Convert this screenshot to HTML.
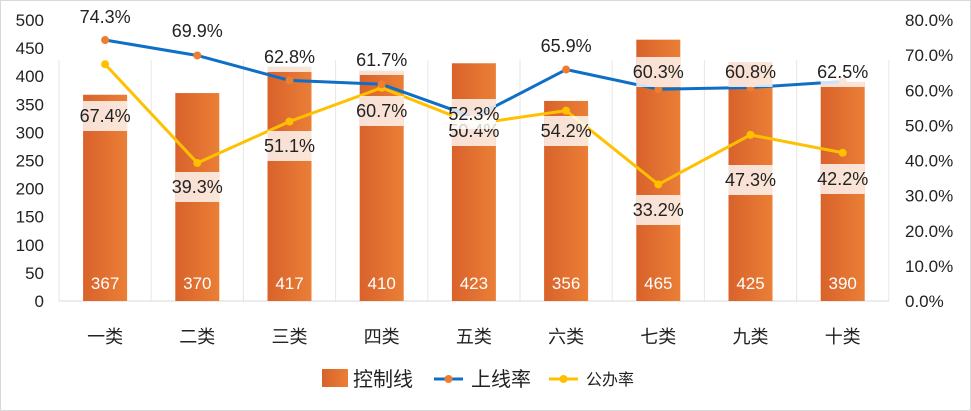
<!DOCTYPE html>
<html><head><meta charset="utf-8"><style>
html,body{margin:0;padding:0;background:#fff}
svg{display:block;font-family:"Liberation Sans","Noto Sans CJK SC",sans-serif}
</style></head><body>
<svg id="s" width="971" height="411" viewBox="0 0 971 411" xmlns="http://www.w3.org/2000/svg">
<defs><linearGradient id="g" x1="0" x2="1" y1="0" y2="0"><stop offset="0" stop-color="#d9622b"/><stop offset="1" stop-color="#ea7f36"/></linearGradient></defs>
<rect x="0.5" y="0.5" width="970" height="410" fill="#fff" stroke="#d9d9d9"/>
</svg>
<script>
var s=document.getElementById('s'),h='';
var L=59,W=92.2,B=301,H=281;
var cats=['一类','二类','三类','四类','五类','六类','七类','九类','十类'];
var v=[367,370,417,410,423,356,465,425,390];
var up=[74.3,69.9,62.8,61.7,52.3,65.9,60.3,60.8,62.5];
var gb=[67.4,39.3,51.1,60.7,50.4,54.2,33.2,47.3,42.2];
var upy=[17,31,57,60,114,46,72,72,72];
var gby=[116,187,146,111,131,131,210,180,179];
for(var k=0;k<=9;k++){var x=L+W*k;h+='<line x1="'+x+'" y1="60" x2="'+x+'" y2="'+B+'" stroke="#e6e6e6"/>';}
h+='<line x1="'+L+'" y1="'+B+'" x2="889" y2="'+B+'" stroke="#d9d9d9"/>';
for(var i=0;i<=10;i++){var y=B-i*H/10;h+='<text x="44" y="'+(y+6)+'" font-size="17" text-anchor="end" fill="#222">'+(i*50)+'</text>';}
for(var i=0;i<=8;i++){var y=B-i*H/8;h+='<text x="905" y="'+(y+6)+'" font-size="17" fill="#222">'+(i*10)+'.0%</text>';}
function cx(i){return L+W*(i+0.5);}
for(var i=0;i<9;i++){var x=cx(i),t=B-v[i]*H/500;
h+='<rect x="'+(x-22)+'" y="'+t+'" width="44" height="'+(B-t)+'" fill="url(#g)"/>';
h+='<text x="'+x+'" y="289" font-size="17" fill="#fff" text-anchor="middle">'+v[i]+'</text>';
h+='<text x="'+x+'" y="343" font-size="18" fill="#222" text-anchor="middle">'+cats[i]+'</text>';}
function py(p){return B-p/80*H;}
function line(a,c,mc){var d='';for(var i=0;i<9;i++)d+=(i?'L':'M')+cx(i)+' '+py(a[i]);
var r='<path d="'+d+'" fill="none" stroke="'+c+'" stroke-width="3" stroke-linejoin="round"/>';
for(var i=0;i<9;i++)r+='<circle cx="'+cx(i)+'" cy="'+py(a[i])+'" r="4" fill="'+mc+'"/>';return r;}
h+=line(gb,'#ffc000','#ffc000');
h+=line(up,'#0f6fc6','#ed7d31');
function lab(x,y,t){return '<rect x="'+(x-22)+'" y="'+(y-15)+'" width="44" height="30" fill="#fff" fill-opacity="0.8"/>'+
'<text x="'+x+'" y="'+(y+6)+'" font-size="18" fill="#222" text-anchor="middle">'+t+'</text>';}
for(var i=0;i<9;i++){var x=cx(i);h+=lab(x,gby[i],gb[i]+'%');h+=lab(x,upy[i],up[i]+'%');}
h+='<rect x="322" y="369" width="26" height="18" fill="url(#g)"/>';
h+='<text x="353" y="386" font-size="20" fill="#222">控制线</text>';
h+='<line x1="434" y1="379" x2="463" y2="379" stroke="#0f6fc6" stroke-width="3"/><circle cx="448.5" cy="379" r="4" fill="#ed7d31"/>';
h+='<text x="471" y="386" font-size="20" fill="#222">上线率</text>';
h+='<line x1="549" y1="379" x2="578" y2="379" stroke="#ffc000" stroke-width="3"/><circle cx="563.5" cy="379" r="4" fill="#ffc000"/>';
h+='<text x="586" y="385" font-size="16" fill="#222">公办率</text>';
s.insertAdjacentHTML('beforeend',h);
</script>
</body></html>
